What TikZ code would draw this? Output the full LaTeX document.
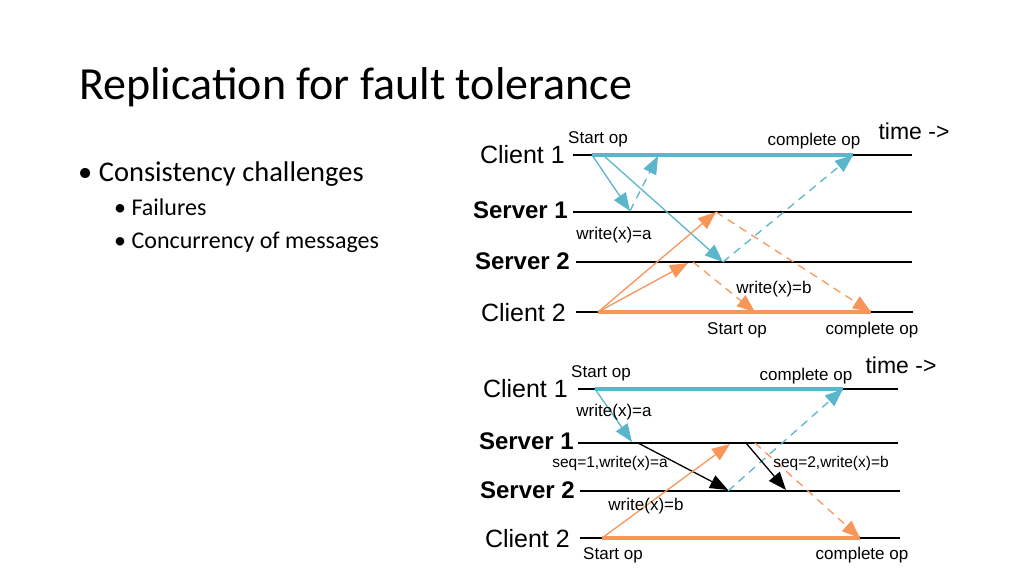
\documentclass[tikz,border=0pt]{standalone}
\usepackage{fontspec}
\setmainfont{Carlito}
\newfontfamily\arial{Liberation Sans}
\usetikzlibrary{arrows.meta}
\definecolor{cb}{RGB}{90,182,203}
\definecolor{co}{RGB}{248,150,90}
\begin{document}
\begin{tikzpicture}[x=1pt,y=-1pt,
  tl/.style={line width=1.6pt},
  lab/.style={font=\arial\fontsize{17}{19}\selectfont,inner sep=0pt},
  proc/.style={font=\arial\fontsize{25}{28}\selectfont,inner sep=0pt,anchor=east},
  bproc/.style={proc,font=\arial\bfseries\fontsize{24}{28}\selectfont},
  arr/.style={line width=1.3pt,-{Triangle[length=18pt,width=14pt]}},
  darr/.style={arr,dash pattern=on 8pt off 6pt},
  thick line/.style={line width=3.2pt}]
\useasboundingbox (0,0) rectangle (1024,576);
\node[anchor=base west,inner sep=0pt,font=\fontsize{46}{50}\selectfont] (title) at (79,99) {Replication for fault tolerance};
\node[anchor=base west,inner sep=0pt,font=\fontsize{28.5}{32}\selectfont] (b1) at (78,181) {\textbullet\ Consistency challenges};
\node[anchor=base west,inner sep=0pt,font=\fontsize{24}{28}\selectfont] (b2) at (114,215) {\textbullet\ Failures};
\node[anchor=base west,inner sep=0pt,font=\fontsize{24}{28}\selectfont] (b3) at (114,248) {\textbullet\ Concurrency of messages};

% ---- top diagram
\coordinate (c1a) at (573,155); \coordinate (c1b) at (912,155);
\coordinate (s1a) at (573,212); \coordinate (s1b) at (912,212);
\coordinate (s2a) at (576,262); \coordinate (s2b) at (912,262);
\coordinate (c2a) at (576,312); \coordinate (c2b) at (913,312);
\draw[tl] (c1a)--(c1b); \draw[tl] (s1a)--(s1b); \draw[tl] (s2a)--(s2b); \draw[tl] (c2a)--(c2b);
\coordinate (bs) at (592,155); \coordinate (be) at (853,155);
\coordinate (os) at (598,312); \coordinate (oe) at (871,312);
\draw[thick line,cb] (bs)--(be);
\draw[thick line,co] (os)--(oe);
\coordinate (p1) at (630,211); \coordinate (p2) at (658,156);
\coordinate (p3) at (723,262);
\coordinate (p4) at (716,212); \coordinate (p5) at (688,263); \coordinate (p6) at (693,262);
\coordinate (p7) at (755,312);
\draw[arr,cb] (bs)--(p1);
\draw[darr,cb] (p1)--(p2);
\draw[arr,cb] (603,155) coordinate (bs2)--(p3);
\draw[darr,cb] (p3)--(be);
\draw[arr,co] (os)--(p4);
\draw[arr,co] (os)--(p5);
\draw[darr,co] (p4)--(oe);
\draw[darr,co] (p6)--(p7);
\node[proc] (lc1) at (565,155) {Client 1};
\node[bproc] (ls1) at (568,210) {Server 1};
\node[bproc] (ls2) at (570,261) {Server 2};
\node[proc] (lc2) at (566,313) {Client 2};
\node[lab] (t1) at (598,139) {Start op};
\node[lab] (t2) at (814,141) {complete op};
\node[lab,font=\arial\fontsize{23}{25}\selectfont] (t3) at (914,131) {time ->};
\node[lab] (t4) at (614,235) {write(x)=a};
\node[lab] (t5) at (774,289) {write(x)=b};
\node[lab] (t6) at (737,330) {Start op};
\node[lab] (t7) at (872,330) {complete op};

% ---- bottom diagram
\coordinate (d1a) at (578,389); \coordinate (d1b) at (898,389);
\coordinate (e1a) at (578,443); \coordinate (e1b) at (898,443);
\coordinate (e2a) at (580,491); \coordinate (e2b) at (900,491);
\coordinate (d2a) at (580,538); \coordinate (d2b) at (900,538);
\draw[tl] (d1a)--(d1b); \draw[tl] (e1a)--(e1b); \draw[tl] (e2a)--(e2b); \draw[tl] (d2a)--(d2b);
\coordinate (bs') at (595,389); \coordinate (be') at (843,389);
\coordinate (os') at (602,538); \coordinate (oe') at (860,538);
\draw[thick line,cb] (bs')--(be');
\draw[thick line,co] (os')--(oe');
\coordinate (q1) at (632,442); \coordinate (q2) at (638,443); \coordinate (q3) at (728,490);
\coordinate (q4) at (730,444); \coordinate (q5) at (746,443); \coordinate (q6) at (786,490);
\coordinate (q7) at (755,443); \coordinate (q8) at (728,491);
\draw[arr,cb] (bs')--(q1);
\draw[arr,black] (q2)--(q3);
\draw[darr,cb] (q8)--(be');
\draw[arr,co] (os')--(q4);
\draw[arr,black] (q5)--(q6);
\draw[darr,co] (q7)--(oe');
\node[proc] (mc1) at (568,389) {Client 1};
\node[bproc] (ms1) at (574,441) {Server 1};
\node[bproc] (ms2) at (575,490) {Server 2};
\node[proc] (mc2) at (570,539) {Client 2};
\node[lab] (u1) at (601,373) {Start op};
\node[lab] (u2) at (806,376) {complete op};
\node[lab,font=\arial\fontsize{23}{25}\selectfont] (u3) at (901,365) {time ->};
\node[lab] (u4) at (614,412) {write(x)=a};
\node[lab,font=\arial\fontsize{15.5}{17}\selectfont] (u5) at (610,463) {seq=1,write(x)=a};
\node[lab,font=\arial\fontsize{15.5}{17}\selectfont] (u6) at (831,463) {seq=2,write(x)=b};
\node[lab] (u7) at (646,506) {write(x)=b};
\node[lab] (u8) at (613,555) {Start op};
\node[lab] (u9) at (862,555) {complete op};
\end{tikzpicture}
\end{document}
